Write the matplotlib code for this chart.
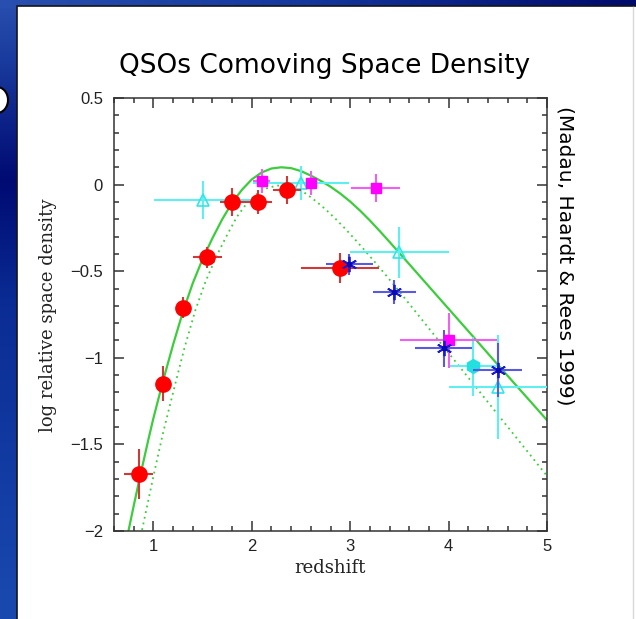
"""
QSO comoving space density vs redshift, with model curves
"""

import numpy as np
import matplotlib
matplotlib.use("Agg")
import matplotlib.pyplot as plt
from matplotlib.patches import Rectangle, Ellipse
from matplotlib.ticker import MultipleLocator, FixedFormatter, FixedLocator

# red filled circles
red_z = [0.85, 1.10, 1.30, 1.55, 1.80, 2.06, 2.36, 2.90]
red_y = [-1.67, -1.15, -0.71, -0.42, -0.10, -0.10, -0.03, -0.48]
red_zerr = [0.15, 0.03, 0.035, 0.15, 0.12, 0.15, 0.145, 0.395]
red_yerr = [0.145, 0.10, 0.06, 0.06, 0.08, 0.07, 0.08, 0.087]

# magenta squares
mag_z = [2.10, 2.60, 3.26, 4.00]
mag_y = [0.02, 0.01, -0.02, -0.90]
mag_zerr = [0.085, 0.05, 0.25, 0.49]
mag_yerr = [0.07, 0.07, 0.083, 0.16]

# cyan open triangles
tri_z = [1.50, 2.50, 3.50, 4.50]
tri_y = [-0.09, 0.01, -0.39, -1.17]
tri_zerr = [0.49, 0.49, 0.50, 0.50]
tri_yerr = [0.11, 0.10, 0.147, 0.30]

# cyan filled point
cyc_z = [4.25]
cyc_y = [-1.05]
cyc_zerr = [0.24]
cyc_yerr = [0.168]

# blue asterisks
ast_z = [2.99, 3.45, 3.95, 4.50]
ast_y = [-0.46, -0.62, -0.945, -1.07]
ast_zerr = [0.237, 0.22, 0.29, 0.25]
ast_yerr = [0.06, 0.072, 0.108, 0.154]

# model curves (solid and dotted)
sol_z = [0.749, 0.80, 0.868, 0.95, 1.00, 1.10, 1.20, 1.30, 1.40, 1.50, 1.60, 1.70,
         1.80, 1.90, 2.00, 2.10, 2.20, 2.30, 2.40, 2.50, 2.60, 2.70, 2.80, 2.90,
         3.00, 3.10, 3.20, 3.30, 3.40, 3.50, 3.75, 4.00, 4.25, 4.50, 4.75, 5.00]
sol_y = [-1.994, -1.855, -1.677, -1.47, -1.35, -1.13, -0.925, -0.735, -0.57, -0.43,
         -0.31, -0.20, -0.105, -0.03, 0.03, 0.07, 0.093, 0.10, 0.095, 0.078, 0.052,
         0.022, -0.012, -0.052, -0.098, -0.15, -0.207, -0.268, -0.331, -0.395,
         -0.556, -0.717, -0.878, -1.04, -1.20, -1.36]
dot_z = [0.885, 0.95, 1.003, 1.10, 1.224, 1.32, 1.427, 1.53, 1.648, 1.75, 1.85,
         1.953, 2.05, 2.15, 2.25, 2.35, 2.45, 2.55, 2.65, 2.75, 2.85, 2.95, 3.05,
         3.15, 3.25, 3.35, 3.45, 3.55, 3.80, 4.05, 4.30, 4.55, 4.80, 5.00]
dot_y = [-1.994, -1.82, -1.677, -1.43, -1.147, -0.935, -0.725, -0.56, -0.405, -0.29,
         -0.185, -0.105, -0.055, -0.022, -0.006, -0.004, -0.018, -0.052, -0.095,
         -0.143, -0.197, -0.255, -0.317, -0.381, -0.447, -0.514, -0.583, -0.653,
         -0.83, -1.008, -1.185, -1.363, -1.54, -1.682]

xticks = [1, 2, 3, 4, 5]
xticklabels = ["1", "2", "3", "4", "5"]
yticks = [0.5, 0, -0.5, -1, -1.5, -2]
yticklabels = ["0.5", "0", "\u22120.5", "\u22121", "\u22121.5", "\u22122"]

W, H = 636, 619
fig = plt.figure(figsize=(W / 100, H / 100), dpi=100)

# slide background: blue frame and white panel
bg = fig.add_axes([0, 0, 1, 1], zorder=-10)
bg.set_xlim(0, W)
bg.set_ylim(H, 0)
bg.axis("off")
rows = np.arange(H)
stops_y = [0, 60, 180, 300, H]
stops_r = [0.16, 0.10, 0.00, 0.04, 0.10]
stops_g = [0.31, 0.23, 0.04, 0.17, 0.29]
stops_b = [0.69, 0.62, 0.45, 0.58, 0.69]
col = np.stack([np.interp(rows, stops_y, s) for s in (stops_r, stops_g, stops_b)], axis=-1)
img = np.repeat(col[:, None, :], W, axis=1)
cols = np.arange(W)
top = np.stack([np.interp(cols, [0, 300, W], s) for s in
                ([0.16, 0.08, 0.0], [0.31, 0.22, 0.04], [0.69, 0.62, 0.42])], axis=-1)
img[:8, :, :] = top[None, :, :]
bg.imshow(img, extent=[0, W, H, 0], aspect="auto", interpolation="bilinear")
bg.add_patch(Rectangle((17, 6), W, H, facecolor="white", edgecolor="#151515", lw=1.2))
bg.plot([632.5, 632.5], [7, H], color="#d8d8d8", lw=1)
bg.add_patch(Ellipse((-3, 100), 22, 26, facecolor="white", edgecolor="black", lw=1.5))

ax = fig.add_axes([114 / W, 1 - 531 / H, 433 / W, 433 / H])

ax.plot(sol_z, sol_y, color="#3ccc3c", lw=1.6, zorder=2)
ax.plot(dot_z, dot_y, color="#3ccc3c", lw=1.3, ls=(0, (1, 2.2)), zorder=2)

ax.errorbar(tri_z, tri_y, xerr=tri_zerr, yerr=tri_yerr, fmt="^", ms=8.5,
            mfc="none", mec="#33e6e6", mew=1.2, ecolor="#5ef0f0", elinewidth=1.5,
            capsize=0, zorder=3)
ax.errorbar(cyc_z, cyc_y, xerr=cyc_zerr, yerr=cyc_yerr, fmt="h", ms=10,
            color="#22e0e0", ecolor="#5ef0f0", elinewidth=1.5, capsize=0, zorder=3)
ax.errorbar(mag_z, mag_y, xerr=mag_zerr, yerr=mag_yerr, fmt="s", ms=7,
            color="#ff00ff", ecolor="#f060f0", elinewidth=1.5, capsize=0, zorder=4)
ax.errorbar(ast_z, ast_y, xerr=ast_zerr, yerr=ast_yerr, fmt="none",
            ecolor="#5a5ae0", elinewidth=1.5, capsize=0, zorder=4)
ax.plot(ast_z, ast_y, ls="none", marker=(6, 2, 0), ms=11, mec="#1a1ad0", mew=1.3, zorder=5)
ax.plot(ast_z, ast_y, ls="none", marker="o", ms=3, color="#0a0ab0", zorder=5)
ax.errorbar(red_z, red_y, xerr=red_zerr, yerr=red_yerr, fmt="o", ms=11,
            color="#ff0000", ecolor="#cc3a3a", elinewidth=1.5, capsize=0, zorder=4)

ax.set_xlim(0.6, 5)
ax.set_ylim(-2, 0.5)
ax.xaxis.set_major_locator(FixedLocator(xticks))
ax.xaxis.set_major_formatter(FixedFormatter(xticklabels))
ax.xaxis.set_minor_locator(MultipleLocator(0.2))
ax.yaxis.set_major_locator(FixedLocator(yticks))
ax.yaxis.set_major_formatter(FixedFormatter(yticklabels))
ax.yaxis.set_minor_locator(MultipleLocator(0.1))
ax.tick_params(which="both", direction="in", top=True, right=True,
               color="#333333", width=1.1, labelsize=12, labelcolor="#222222")
ax.tick_params(which="major", length=7)
ax.tick_params(which="minor", length=3.5)
ax.tick_params(axis="y", pad=8)
ax.tick_params(axis="x", pad=6)
for lab in ax.get_xticklabels() + ax.get_yticklabels():
    lab.set_fontfamily("Liberation Sans")
for sp in ax.spines.values():
    sp.set_color("#333333")
    sp.set_linewidth(1.1)

fig.text(330 / W, 1 - 568 / H, "redshift", ha="center", va="center",
         family="DejaVu Serif", fontsize=13, color="#222222")
fig.text(48 / W, 1 - 315 / H, "log relative space density", ha="center", va="center",
         rotation=90, family="DejaVu Serif", fontsize=13, color="#222222")

fig.text(325 / W, 1 - 66 / H, "QSOs Comoving Space Density", ha="center", va="center",
         family="DejaVu Sans", fontsize=19, color="black")
fig.text(565 / W, 1 - 256 / H, "(Madau, Haardt & Rees 1999)", ha="center", va="center",
         rotation=-90, family="DejaVu Sans", fontsize=14.5, color="black")

fig.savefig("out.png", dpi=100)
